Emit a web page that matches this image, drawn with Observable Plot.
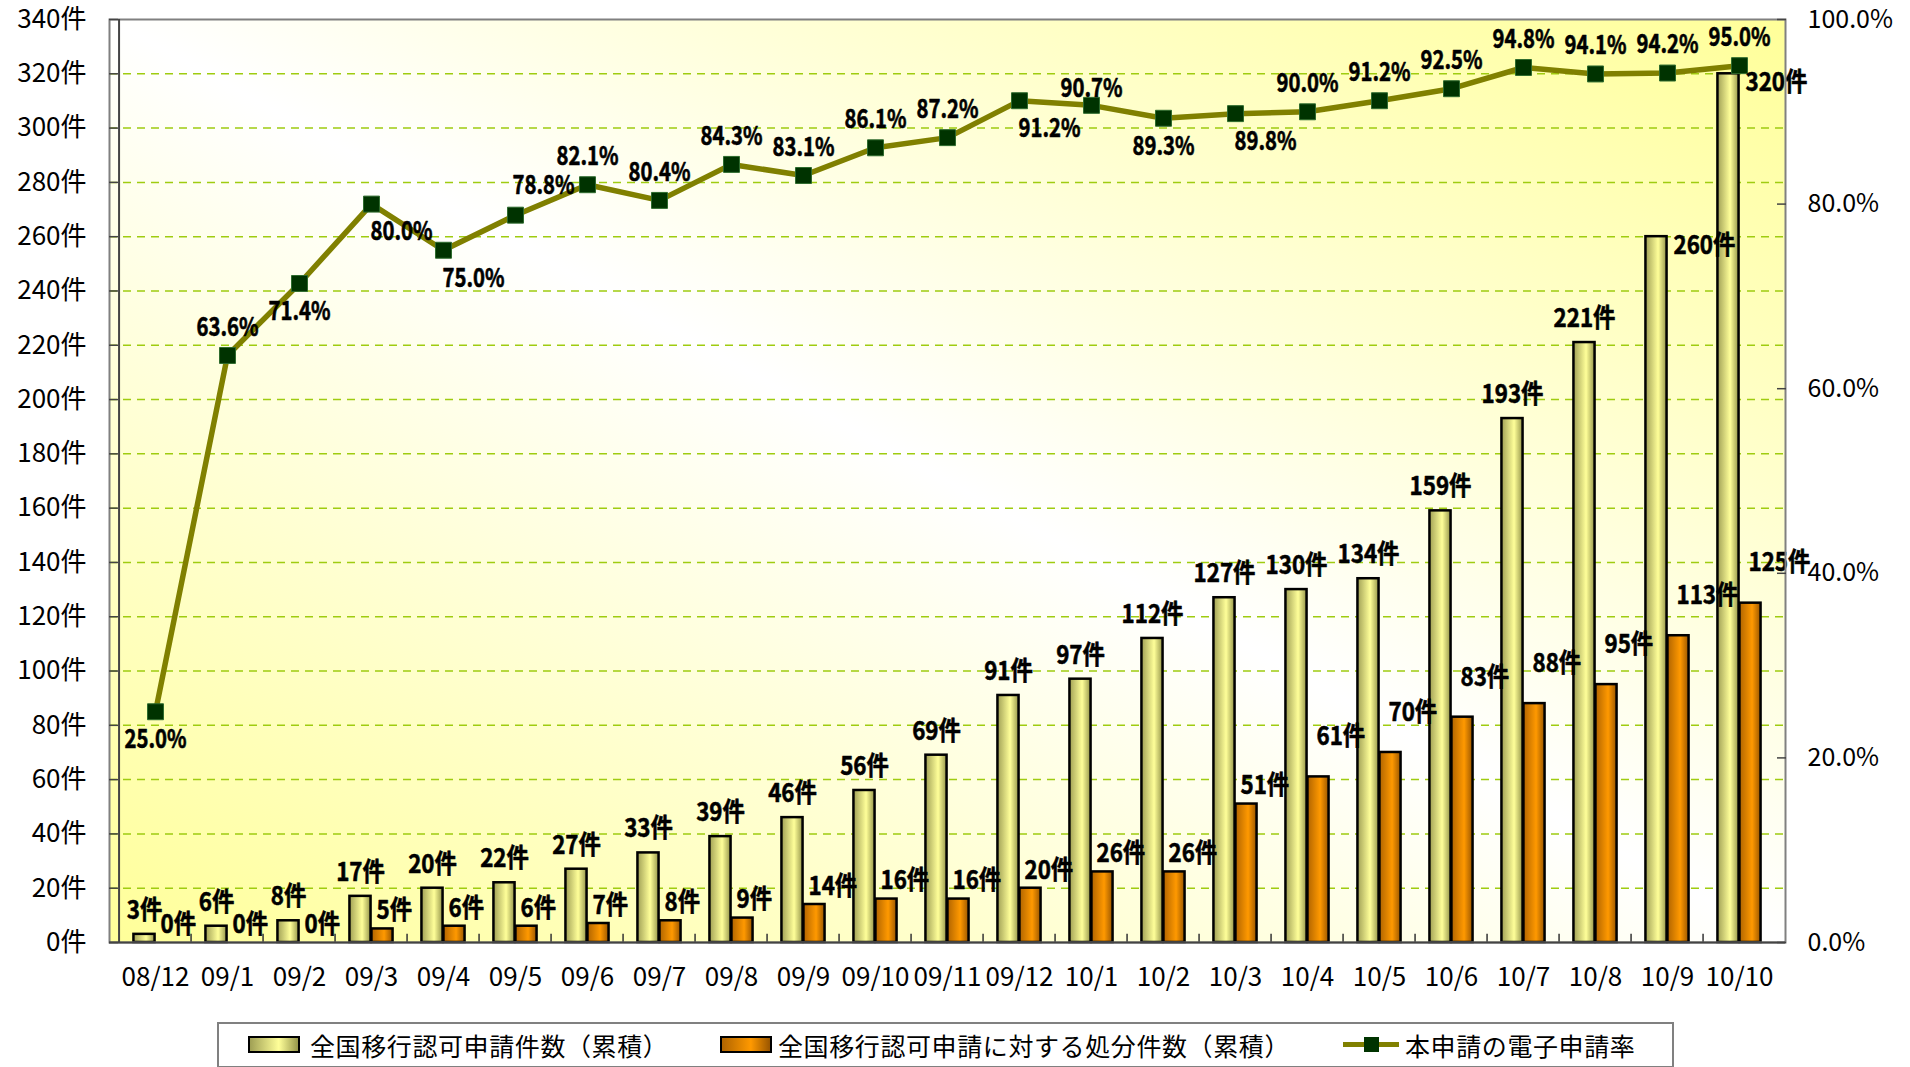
<!DOCTYPE html>
<html><head><meta charset="utf-8">
<script src="https://cdn.jsdelivr.net/npm/d3@7"></script>
<script src="https://cdn.jsdelivr.net/npm/@observablehq/plot@0.6"></script>
<style>
html,body{margin:0;padding:0;background:#fff;overflow:hidden;}
#wrap{position:relative;width:1910px;height:1067px;}
#legend{position:absolute;left:217px;top:1022px;width:1457px;height:46px;border:2px solid #808080;box-sizing:border-box;background:#fff;font-family:"Noto Sans CJK JP",sans-serif;font-size:25px;letter-spacing:0.6px;color:#000;}
.lg-item{position:absolute;top:0;height:42px;display:flex;align-items:center;white-space:nowrap;}
.sw{position:absolute;top:12px;width:52px;height:17px;box-sizing:border-box;border:2.5px solid #000;}
.sw-y{background:linear-gradient(to right,#a0a055,#ffff99 60%,#96964a);}
.sw-o{background:linear-gradient(to right,#b06400,#ff9900 60%,#9a5600);}
.sw-line{position:absolute;top:0;width:56px;height:42px;}
.sw-line .ln{position:absolute;left:0;right:0;top:18px;height:5px;background:#808000;}
.sw-line .mk{position:absolute;left:21px;top:13px;width:15px;height:15px;background:#003300;}
</style></head>
<body><div id="wrap"><div id="chart"></div><div id="legend"></div></div>
<script>
// ---- data ----
const categories = ["08/12","09/1","09/2","09/3","09/4","09/5","09/6","09/7","09/8","09/9","09/10","09/11","09/12","10/1","10/2","10/3","10/4","10/5","10/6","10/7","10/8","10/9","10/10"];
const totalApplications = [3,6,8,17,20,22,27,33,39,46,56,69,91,97,112,127,130,134,159,193,221,260,320];
const dispositions = [0,0,0,5,6,6,7,8,9,14,16,16,20,26,26,51,61,70,83,88,95,113,125];
const electronicRate = [25.0,63.6,71.4,80.0,75.0,78.8,82.1,80.4,84.3,83.1,86.1,87.2,91.2,90.7,89.3,89.8,90.0,91.2,92.5,94.8,94.1,94.2,95.0];
const countTicks = [0,20,40,60,80,100,120,140,160,180,200,220,240,260,280,300,320,340];
const rateTicks = [0,20,40,60,80,100];
const seriesNames = ["全国移行認可申請件数（累積）","全国移行認可申請に対する処分件数（累積）","本申請の電子申請率"];

// ---- label layout (style only) ----
const rateLabelPlacement = ["b","t","b","br","br","tr","t","t","t","t","t","t","br","tl","b","br","t","t","t","t","t","t","t"];
const totalLabelBeside = new Set(["10/9","10/10"]);
const dispLabelRaised = new Set(["10/4","10/5","10/6","10/7","10/8","10/9","10/10"]);

const rows = categories.map((c, i) => ({
  cat: c, total: totalApplications[i], disp: dispositions[i], rate: electronicRate[i], place: rateLabelPlacement[i]
}));

const W = 1910, H = 1012, mL = 109, mR = 125, mT = 19, mB = 70;
const bw = (W - mL - mR) / categories.length;
const barW = 22;
const countMax = 340;
const rateToCount = r => r * countMax / 100;

const labelStyle = {fontWeight: "bold", fontSize: 26, fontFamily: '"Noto Sans CJK JP",sans-serif', fill: "#000", stroke: "#000", strokeWidth: 0.6};

const plot = Plot.plot({
  width: W, height: H,
  marginLeft: mL, marginRight: mR, marginTop: mT, marginBottom: mB,
  style: {fontFamily: '"Noto Sans CJK JP",sans-serif', fontSize: "25px", color: "#000", background: "transparent", overflow: "visible"},
  x: {type: "band", domain: categories, padding: 0, label: null},
  y: {domain: [0, countMax], label: null},
  marks: [
    Plot.frame({fill: "url(#bgGrad)", stroke: null}),
    Plot.gridY({ticks: countTicks.slice(1, -1), stroke: "#9fcc10", strokeOpacity: 1, strokeWidth: 1.5, strokeDasharray: "8,6"}),
    Plot.barY(rows, {x: "cat", y: "total", fill: "url(#gradYellow)", stroke: "#000", strokeWidth: 2.5,
      insetLeft: bw / 2 - barW, insetRight: bw / 2}),
    Plot.barY(rows.filter(d => d.disp > 0), {x: "cat", y: "disp", fill: "url(#gradOrange)", stroke: "#000", strokeWidth: 2.5,
      insetLeft: bw / 2, insetRight: bw / 2 - barW}),
    // x tick marks at category boundaries (inward)
    Plot.ruleX(categories.slice(1), {x: d => d, y1: 0, y2: 3, dx: -bw / 2, stroke: "#333", strokeWidth: 1.5}),
    // line + markers
    Plot.line(rows, {x: "cat", y: d => rateToCount(d.rate), stroke: "#808000", strokeWidth: 5.5, strokeLinejoin: "round"}),
    Plot.dot(rows, {x: "cat", y: d => rateToCount(d.rate), symbol: "square", r: 9, fill: "#003300", stroke: "#2e6b2e", strokeWidth: 1}),
    // total labels
    Plot.text(rows.filter(d => !totalLabelBeside.has(d.cat)), {x: "cat", y: "total", text: d => d.total + "件",
      dx: -barW / 2, dy: -24, ...labelStyle}),
    Plot.text(rows.filter(d => totalLabelBeside.has(d.cat)), {x: "cat", y: "total", text: d => d.total + "件",
      dx: 6, dy: 9, textAnchor: "start", ...labelStyle}),
    // disposition labels
    Plot.text(rows.filter(d => !dispLabelRaised.has(d.cat)), {x: "cat", y: "disp", text: d => d.disp + "件",
      dx: 5, dy: -18, textAnchor: "start", ...labelStyle}),
    Plot.text(rows.filter(d => dispLabelRaised.has(d.cat)), {x: "cat", y: "disp", text: d => d.disp + "件",
      dx: 9, dy: -40, textAnchor: "start", ...labelStyle}),
    // rate labels
    Plot.text(rows.filter(d => d.place === "t"), {x: "cat", y: d => rateToCount(d.rate), text: d => d.rate.toFixed(1) + "%", dy: -28, ...labelStyle}),
    Plot.text(rows.filter(d => d.place === "tl"), {x: "cat", y: d => rateToCount(d.rate), text: d => d.rate.toFixed(1) + "%", dy: -17, ...labelStyle}),
    Plot.text(rows.filter(d => d.place === "tr"), {x: "cat", y: d => rateToCount(d.rate), text: d => d.rate.toFixed(1) + "%", dx: 28, dy: -30, ...labelStyle}),
    Plot.text(rows.filter(d => d.place === "b"), {x: "cat", y: d => rateToCount(d.rate), text: d => d.rate.toFixed(1) + "%", dy: 28, ...labelStyle}),
    Plot.text(rows.filter(d => d.place === "br"), {x: "cat", y: d => rateToCount(d.rate), text: d => d.rate.toFixed(1) + "%", dx: 30, dy: 28, ...labelStyle}),
    // frame & axis lines
    Plot.frame({stroke: "#808080", strokeWidth: 2}),
    Plot.ruleY([0], {stroke: "#444", strokeWidth: 2}),
    Plot.ruleX([categories[0]], {dx: -bw / 2, stroke: "#444", strokeWidth: 2}),
    // left axis: ticks inward + labels
    Plot.axisY({anchor: "left", ticks: countTicks, tickSize: 9, dx: 9, tickFormat: () => "", stroke: "#444", strokeWidth: 1.5, label: null}),
    Plot.axisY({anchor: "left", ticks: countTicks, tickSize: 0, tickPadding: 23, tickFormat: d => d + "件", fontSize: 26, label: null}),
    // right axis (percent)
    Plot.axisY({anchor: "right", ticks: rateTicks.map(rateToCount), tickSize: 9, dx: -9, tickFormat: () => "", stroke: "#444", strokeWidth: 1.5, label: null}),
    Plot.axisY({anchor: "right", ticks: rateTicks.map(rateToCount), tickSize: 0, tickPadding: 22,
      tickFormat: d => (d * 100 / countMax).toFixed(1) + "%", fontSize: 25, label: null}),
    // x axis labels
    Plot.axisX({tickSize: 0, tickPadding: 25, fontSize: 26, label: null})
  ]
});

// condense the bold data labels horizontally (percent labels a little more)
plot.querySelectorAll('g[font-weight="bold"] text').forEach(t => {
  let tr = t.getAttribute("transform");
  if (!tr) {
    const x = t.getAttribute("x") || 0, y = t.getAttribute("y") || 0;
    t.removeAttribute("x"); t.removeAttribute("y");
    tr = `translate(${x},${y})`;
  }
  const k = t.textContent.endsWith("%") ? 0.78 : 0.86;
  t.setAttribute("transform", tr + ` scale(${k},1)`);
});

// gradients
const ns = "http://www.w3.org/2000/svg";
const defs = document.createElementNS(ns, "defs");
function grad(id, x1, y1, x2, y2, stops) {
  const g = document.createElementNS(ns, "linearGradient");
  g.setAttribute("id", id);
  g.setAttribute("x1", x1); g.setAttribute("y1", y1); g.setAttribute("x2", x2); g.setAttribute("y2", y2);
  for (const [o, c] of stops) {
    const s = document.createElementNS(ns, "stop");
    s.setAttribute("offset", o); s.setAttribute("stop-color", c);
    g.appendChild(s);
  }
  defs.appendChild(g);
}
grad("bgGrad", 0, 1, 1, 0, [[0, "#ffff99"], [0.5, "#ffffff"], [1, "#ffff99"]]);
grad("gradYellow", 0, 0, 1, 0, [[0, "#a0a055"], [0.6, "#ffff99"], [1, "#96964a"]]);
grad("gradOrange", 0, 0, 1, 0, [[0, "#b06400"], [0.6, "#ff9900"], [1, "#9a5600"]]);
plot.insertBefore(defs, plot.firstChild);
document.getElementById("chart").appendChild(plot);

// legend
const lg = document.getElementById("legend");
const items = [
  {sw: '<div class="sw sw-y" style="left:29px"></div>', left: 91, text: seriesNames[0]},
  {sw: '<div class="sw sw-o" style="left:501px"></div>', left: 559, text: seriesNames[1]},
  {sw: '<div class="sw-line" style="left:1124px"><div class="ln"></div><div class="mk"></div></div>', left: 1186, text: seriesNames[2]}
];
for (const it of items) {
  lg.insertAdjacentHTML("beforeend", it.sw);
  const d = document.createElement("div");
  d.className = "lg-item";
  d.style.left = it.left + "px";
  d.textContent = it.text;
  lg.appendChild(d);
}
</script>
</body></html>
